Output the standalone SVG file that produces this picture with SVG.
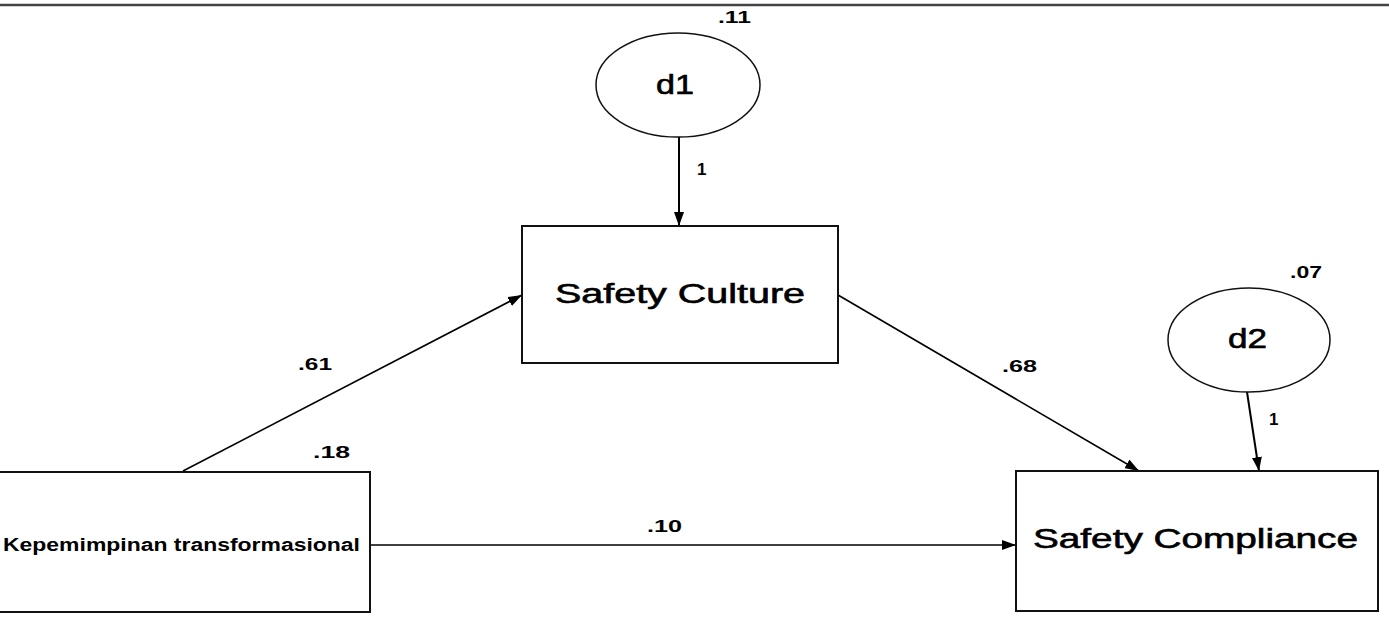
<svg xmlns="http://www.w3.org/2000/svg" width="1389" height="624" viewBox="0 0 1389 624">
<style>
.box{fill:#fff;stroke:#111;stroke-width:2}
.ell{fill:#fff;stroke:#111;stroke-width:1.5}
.lbl{font-family:"Liberation Sans",Arial,sans-serif;fill:#000}
.name{font-size:27px;stroke:#000;stroke-width:0.6}
.num{font-size:17px;font-weight:bold}
.edge{stroke:#000;stroke-width:1.6;fill:none;marker-end:url(#ah)}
</style>
<defs>
<marker id="ah" viewBox="0 0 14 10" refX="14" refY="5" markerWidth="14" markerHeight="10" markerUnits="userSpaceOnUse" orient="auto">
<path d="M0,0 L14,5 L0,10 Z" fill="#000"/>
</marker>
</defs>
<rect x="0" y="0" width="1389" height="624" fill="#fff"/>
<line x1="0" y1="5" x2="1389" y2="5" stroke="#444" stroke-width="2.5"/>
<g id="connectors">
<line class="edge" x1="679" y1="137" x2="679" y2="226" style="stroke-width:2"/>
<line class="edge" x1="183" y1="471" x2="522" y2="295"/>
<line class="edge" x1="838" y1="295" x2="1139" y2="471"/>
<line class="edge" x1="1247" y1="392" x2="1259" y2="471" style="stroke-width:2"/>
<line class="edge" x1="370" y1="545" x2="1016" y2="545"/>
</g>
<g id="d1">
<ellipse class="ell" cx="678" cy="85" rx="82" ry="52"/>
<text class="lbl name" x="656" y="94" textLength="38" lengthAdjust="spacingAndGlyphs">d1</text>
<text class="lbl num" x="718" y="23" textLength="33" lengthAdjust="spacingAndGlyphs">.11</text>
</g>
<g id="safety_culture">
<rect class="box" x="522" y="226" width="316" height="137"/>
<text class="lbl name" x="555" y="303" textLength="250" lengthAdjust="spacingAndGlyphs">Safety Culture</text>
</g>
<g id="d2">
<ellipse class="ell" cx="1249" cy="340" rx="81" ry="52"/>
<text class="lbl name" x="1228" y="348" textLength="39" lengthAdjust="spacingAndGlyphs">d2</text>
<text class="lbl num" x="1290" y="278" textLength="32" lengthAdjust="spacingAndGlyphs">.07</text>
</g>
<g id="kepemimpinan">
<rect class="box" x="-2" y="472" width="372" height="140"/>
<text class="lbl" x="3" y="551" font-size="18" font-weight="bold" textLength="357" lengthAdjust="spacingAndGlyphs">Kepemimpinan transformasional</text>
<text class="lbl num" x="313" y="458" textLength="37" lengthAdjust="spacingAndGlyphs">.18</text>
</g>
<g id="safety_compliance">
<rect class="box" x="1016" y="471" width="362" height="140"/>
<text class="lbl name" x="1033" y="548" textLength="325" lengthAdjust="spacingAndGlyphs">Safety Compliance</text>
</g>
<g id="edge_labels">
<text class="lbl num" x="697" y="175">1</text>
<text class="lbl num" x="1269" y="425">1</text>
<text class="lbl num" x="298" y="370" textLength="34" lengthAdjust="spacingAndGlyphs">.61</text>
<text class="lbl num" x="1002" y="372" textLength="35" lengthAdjust="spacingAndGlyphs">.68</text>
<text class="lbl num" x="647" y="532" textLength="35" lengthAdjust="spacingAndGlyphs">.10</text>
</g>
</svg>
